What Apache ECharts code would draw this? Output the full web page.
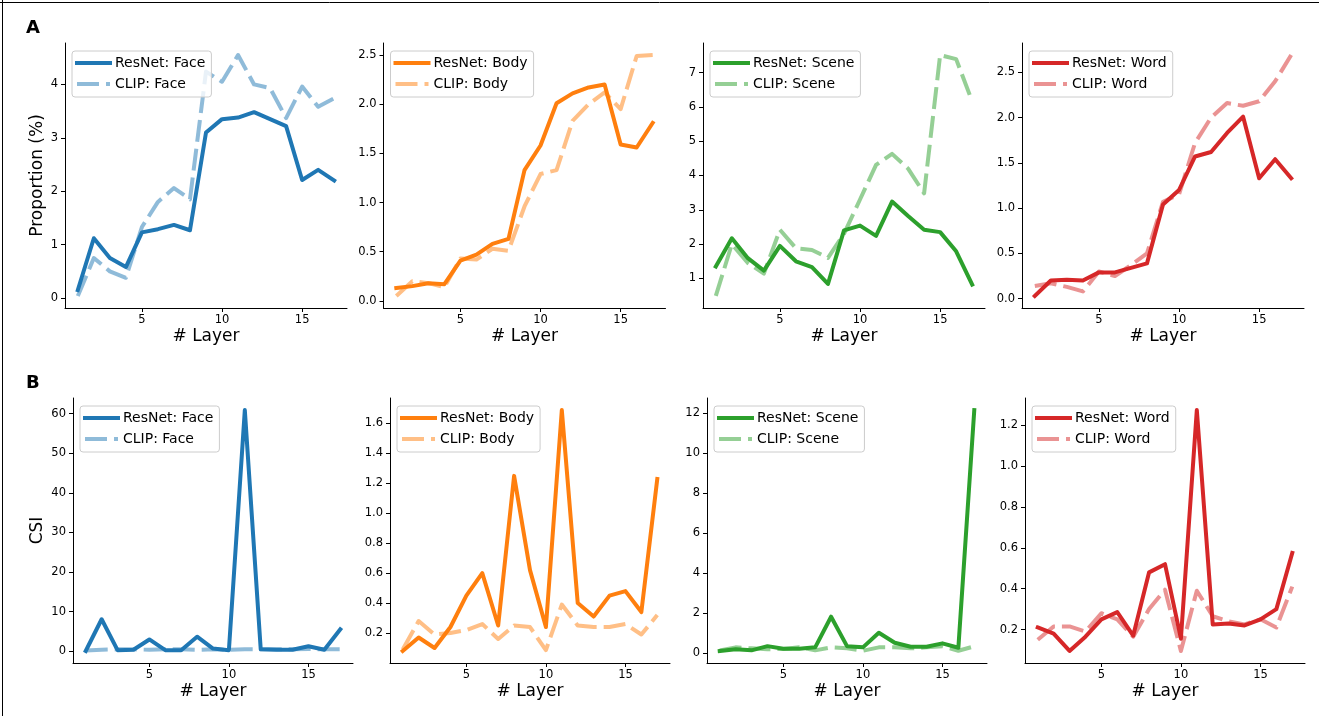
<!DOCTYPE html>
<html>
<head>
<meta charset="utf-8">
<script src="https://cdn.jsdelivr.net/npm/echarts@6/dist/echarts.min.js"></script>
<style>
  html, body { margin: 0; padding: 0; background: #fff; }
  #chart { width: 1319px; height: 716px; }
</style>
</head>
<body>
<div id="chart"></div>
<script>
// layer index on the x axis
const layers = [1, 2, 3, 4, 5, 6, 7, 8, 9, 10, 11, 12, 13, 14, 15, 16, 17]
const xTicks = [5, 10, 15]

// row A: proportion (%)
const faceResNetProp = [0.15, 1.12, 0.75, 0.58, 1.23, 1.29, 1.37, 1.27, 3.10, 3.35, 3.38, 3.48, 3.35, 3.22, 2.21, 2.40, 2.20]
const faceClipProp = [0.04, 0.75, 0.50, 0.38, 1.33, 1.80, 2.06, 1.85, 4.24, 4.05, 4.55, 4.00, 3.93, 3.37, 3.96, 3.58, 3.74]
const bodyResNetProp = [0.13, 0.15, 0.18, 0.17, 0.41, 0.47, 0.58, 0.63, 1.33, 1.58, 2.01, 2.11, 2.17, 2.20, 1.59, 1.56, 1.81]
const bodyClipProp = [0.05, 0.20, 0.18, 0.14, 0.43, 0.42, 0.53, 0.51, 0.96, 1.29, 1.33, 1.83, 2.00, 2.12, 1.95, 2.49, 2.50]
const sceneResNetProp = [1.35, 2.17, 1.59, 1.23, 1.95, 1.50, 1.33, 0.84, 2.40, 2.54, 2.24, 3.24, 2.82, 2.42, 2.35, 1.79, 0.82]
const sceneClipProp = [0.49, 2.00, 1.45, 1.14, 2.42, 1.88, 1.83, 1.60, 2.30, 3.30, 4.31, 4.63, 4.20, 3.48, 7.51, 7.39, 6.16]
const wordResNetProp = [0.03, 0.20, 0.21, 0.20, 0.29, 0.29, 0.34, 0.39, 1.04, 1.20, 1.57, 1.62, 1.83, 2.01, 1.33, 1.54, 1.33]
const wordClipProp = [0.14, 0.17, 0.13, 0.08, 0.30, 0.25, 0.37, 0.50, 1.07, 1.15, 1.72, 2.00, 2.16, 2.13, 2.18, 2.40, 2.69]

// row B: CSI
const faceResNetCsi = [0.1, 8.1, 0.3, 0.4, 3.0, 0.3, 0.3, 3.7, 0.7, 0.3, 60.9, 0.5, 0.4, 0.4, 1.3, 0.4, 5.55]
const faceClipCsi = [0.2, 0.4, 0.5, 0.5, 0.4, 0.5, 0.5, 0.4, 0.5, 0.4, 0.5, 0.5, 0.5, 0.5, 0.6, 0.5, 0.5]
const bodyResNetCsi = [0.08, 0.17, 0.10, 0.24, 0.45, 0.60, 0.25, 1.25, 0.62, 0.24, 1.69, 0.40, 0.31, 0.45, 0.48, 0.34, 1.23]
const bodyClipCsi = [0.09, 0.28, 0.19, 0.20, 0.22, 0.26, 0.16, 0.25, 0.24, 0.085, 0.39, 0.25, 0.24, 0.24, 0.26, 0.19, 0.32]
const sceneResNetCsi = [0.12, 0.20, 0.15, 0.36, 0.23, 0.23, 0.30, 1.83, 0.36, 0.30, 1.03, 0.53, 0.33, 0.33, 0.50, 0.28, 12.15]
const sceneClipCsi = [0.15, 0.30, 0.25, 0.20, 0.22, 0.30, 0.15, 0.30, 0.25, 0.13, 0.30, 0.30, 0.25, 0.30, 0.35, 0.13, 0.35]
const wordResNetCsi = [0.21, 0.18, 0.095, 0.165, 0.25, 0.285, 0.17, 0.48, 0.52, 0.155, 1.275, 0.225, 0.23, 0.22, 0.25, 0.30, 0.575]
const wordClipCsi = [0.15, 0.215, 0.215, 0.19, 0.28, 0.25, 0.165, 0.30, 0.395, 0.095, 0.39, 0.265, 0.24, 0.225, 0.25, 0.21, 0.41]

// y tick labels
const faceTicksProp = [0, 1, 2, 3, 4]
const bodyTicksProp = [0, 0.5, 1, 1.5, 2, 2.5]
const sceneTicksProp = [1, 2, 3, 4, 5, 6, 7]
const wordTicksProp = [0, 0.5, 1, 1.5, 2, 2.5]
const faceTicksCsi = [0, 10, 20, 30, 40, 50, 60]
const bodyTicksCsi = [0.2, 0.4, 0.6, 0.8, 1.0, 1.2, 1.4, 1.6]
const sceneTicksCsi = [0, 2, 4, 6, 8, 10, 12]
const wordTicksCsi = [0.2, 0.4, 0.6, 0.8, 1.0, 1.2]

const categories = ['Face', 'Body', 'Scene', 'Word']
const colors = ['#1f77b4', '#ff7f0e', '#2ca02c', '#d62728']
const fadedColors = ['rgba(31,119,180,0.5)', 'rgba(255,127,14,0.5)', 'rgba(44,160,44,0.5)', 'rgba(214,39,40,0.5)']

const FONT = 'DejaVu Sans'

const panels = [
  { row: 0, col: 0, res: faceResNetProp, clip: faceClipProp, ticks: faceTicksProp, ylabel: 'Proportion (%)' },
  { row: 0, col: 1, res: bodyResNetProp, clip: bodyClipProp, ticks: bodyTicksProp, dec: 1 },
  { row: 0, col: 2, res: sceneResNetProp, clip: sceneClipProp, ticks: sceneTicksProp },
  { row: 0, col: 3, res: wordResNetProp, clip: wordClipProp, ticks: wordTicksProp, dec: 1 },
  { row: 1, col: 0, res: faceResNetCsi, clip: faceClipCsi, ticks: faceTicksCsi, ylabel: 'CSI' },
  { row: 1, col: 1, res: bodyResNetCsi, clip: bodyClipCsi, ticks: bodyTicksCsi, dec: 1 },
  { row: 1, col: 2, res: sceneResNetCsi, clip: sceneClipCsi, ticks: sceneTicksCsi },
  { row: 1, col: 3, res: wordResNetCsi, clip: wordClipCsi, ticks: wordTicksCsi, dec: 1 },
]

const rowTop = [43, 398]
const rowLeft = [[65, 383.5, 703, 1022], [73, 390, 707, 1025]]
const rowWidth = [282, 280]
const plotHeight = 265

// matplotlib-like 5% margins
const pad = (lo, hi) => { const d = (hi - lo) * 0.05; return [lo - d, hi + d] }

const grids = [], xAxes = [], yAxes = [], series = [], legends = []

panels.forEach((p, i) => {
  const left = rowLeft[p.row][p.col]
  const top = rowTop[p.row]
  grids.push({ left: left, top: top, width: rowWidth[p.row], height: plotHeight })

  const xr = pad(layers[0], layers[layers.length - 1])
  xAxes.push({
    gridIndex: i, type: 'value', min: xr[0], max: xr[1],
    name: '# Layer', nameLocation: 'middle', nameGap: 20,
    nameTextStyle: { fontFamily: FONT, fontSize: 17, color: '#000' },
    axisLine: { show: true, onZero: false, lineStyle: { color: '#000', width: 1 } },
    axisTick: { show: true, customValues: xTicks, length: 4, lineStyle: { color: '#000' } },
    axisLabel: { customValues: xTicks, fontFamily: FONT, fontSize: 11.5, color: '#000', margin: 6 },
    splitLine: { show: false }
  })

  const all = p.res.concat(p.clip)
  const yr = pad(Math.min(...all), Math.max(...all))
  yAxes.push({
    gridIndex: i, type: 'value', min: yr[0], max: yr[1],
    name: p.ylabel || '', nameLocation: 'middle', nameGap: left - 46,
    nameTextStyle: { fontFamily: FONT, fontSize: 17, color: '#000' },
    axisLine: { show: true, onZero: false, lineStyle: { color: '#000', width: 1 } },
    axisTick: { show: true, customValues: p.ticks, length: 4, lineStyle: { color: '#000' } },
    axisLabel: {
      customValues: p.ticks, fontFamily: FONT, fontSize: 11.5, color: '#000', margin: 7,
      formatter: v => p.dec ? Number(v).toFixed(p.dec) : String(Math.round(v))
    },
    splitLine: { show: false }
  })

  const cat = categories[p.col]
  series.push({
    name: 'ResNet: ' + cat, type: 'line', xAxisIndex: i, yAxisIndex: i,
    data: layers.map((l, k) => [l, p.res[k]]),
    symbol: 'none', color: colors[p.col],
    lineStyle: { width: 4, cap: 'square', join: 'round' }
  })
  series.push({
    name: 'CLIP: ' + cat, type: 'line', xAxisIndex: i, yAxisIndex: i,
    data: layers.map((l, k) => [l, p.clip[k]]),
    symbol: 'none', color: fadedColors[p.col],
    lineStyle: { width: 4, type: [22, 7], cap: 'butt', join: 'round' }
  })

  legends.push({
    data: ['ResNet: ' + cat, 'CLIP: ' + cat],
    orient: 'vertical', left: left + 7, top: top + 8,
    itemWidth: 33, itemHeight: 14, itemGap: 7,
    padding: [5, 6, 6, 3],
    backgroundColor: 'rgba(255,255,255,0.8)', borderColor: '#cccccc', borderWidth: 1, borderRadius: 3,
    itemStyle: { opacity: 0 },
    lineStyle: { width: 4 },
    textStyle: { fontFamily: FONT, fontSize: 14, color: '#000' },
    selectedMode: false, z: 10
  })
})

const option = {
  animation: false,
  backgroundColor: '#fff',
  grid: grids,
  xAxis: xAxes,
  yAxis: yAxes,
  legend: legends,
  series: series,
  graphic: [
    { type: 'line', shape: { x1: 0, y1: 2.5, x2: 1319, y2: 2.5 }, style: { stroke: '#000', lineWidth: 1 } },
    { type: 'line', shape: { x1: 2.5, y1: 0, x2: 2.5, y2: 716 }, style: { stroke: '#000', lineWidth: 1 } },
    { type: 'text', left: 26, top: 19, style: { text: 'A', font: 'bold 18px "DejaVu Sans"', fill: '#000' } },
    { type: 'text', left: 26, top: 374, style: { text: 'B', font: 'bold 18px "DejaVu Sans"', fill: '#000' } }
  ]
}

const myChart = echarts.init(document.getElementById('chart'))
myChart.setOption(option)
</script>
</body>
</html>
